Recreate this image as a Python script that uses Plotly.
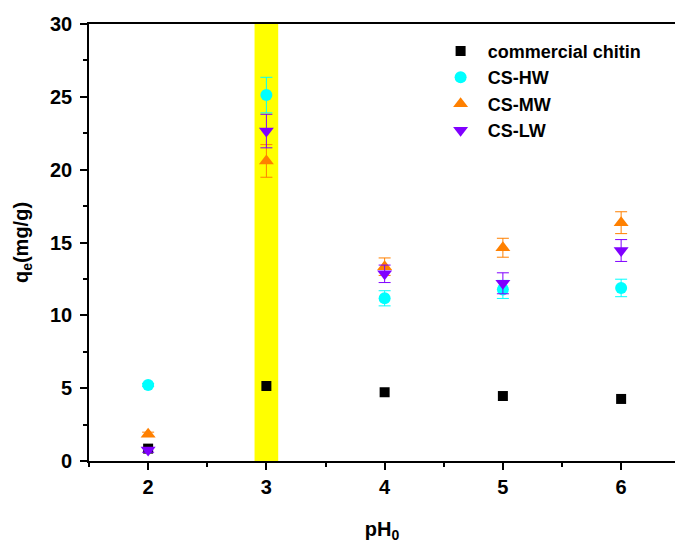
import plotly.graph_objects as go

ph = [2, 3, 4, 5, 6]
chitin = [0.85, 5.15, 4.72, 4.46, 4.26]
chitin_err = [0.1, 0.15, 0.15, 0.12, 0.12]
hw = [5.22, 25.12, 11.17, 11.78, 11.88]
hw_err = [0.1, 1.22, 0.52, 0.62, 0.6]
mw = [1.83, 20.6, 13.34, 14.64, 16.36]
mw_err = [0.15, 1.12, 0.6, 0.65, 0.75]
lw = [0.75, 22.65, 12.85, 12.2, 14.45]
lw_err = [0.15, 1.15, 0.6, 0.72, 0.75]
yticks = [0, 5, 10, 15, 20, 25, 30]

names = ["commercial chitin", "CS-HW", "CS-MW", "CS-LW"]
colors = ["#000000", "#00FFFF", "#FF8000", "#8000FF"]
symbols = ["square", "circle", "triangle-up", "triangle-down"]
sizes = [10, 12, 13, 13]
series = [(chitin, chitin_err), (hw, hw_err), (mw, mw_err), (lw, lw_err)]

FONT = "Liberation Sans, Arial, sans-serif"

fig = go.Figure()
for (vals, errs), name, c, s, sz in zip(series, names, colors, symbols, sizes):
    fig.add_trace(go.Scatter(
        x=ph, y=vals, mode="markers", name="<b>\u2009\u2009%s</b>" % name,
        marker=dict(color=c, symbol=s, size=sz, line=dict(width=0)),
        error_y=dict(type="data", array=errs, color=c, thickness=1, width=6,
                     visible=(name != "commercial chitin")),
    ))

fig.add_shape(type="rect", xref="x", yref="paper", x0=2.9, x1=3.1, y0=0, y1=1,
              fillcolor="#FFFF00", line=dict(width=0), layer="below")

fig.update_layout(
    width=675, height=543,
    margin=dict(l=89, r=0, t=24, b=82),
    plot_bgcolor="white", paper_bgcolor="white",
    font=dict(family=FONT, size=20, color="black"),
    showlegend=True,
    legend=dict(x=0.6, y=0.98, xanchor="left", yanchor="top",
                bgcolor="rgba(0,0,0,0)", font=dict(size=18, family=FONT),
                itemwidth=30, tracegroupgap=0),
    xaxis=dict(range=[1.5, 1.5 + 586 / 118.25], tickvals=ph,
               ticktext=["<b>%d</b>" % v for v in ph],
               showgrid=False, zeroline=False, showline=True, linecolor="black",
               linewidth=1.5, mirror=True, ticks="outside", ticklen=7, tickwidth=1.5,
               tickcolor="black",
               minor=dict(dtick=0.5, tick0=1.5, ticks="outside", ticklen=4, tickcolor="black", tickwidth=1.5),
               title=dict(text="<b>pH<sub>0</sub></b>", font=dict(size=20), standoff=26),
               tickfont=dict(size=20)),
    yaxis=dict(range=[0, 30], tickvals=yticks,
               ticktext=["<b>%d</b>\u2009" % v for v in yticks],
               showgrid=False, zeroline=False, showline=True, linecolor="black",
               linewidth=1.5, ticks="outside", ticklen=7, tickwidth=1.5, tickcolor="black",
               minor=dict(dtick=2.5, ticks="outside", ticklen=4, tickcolor="black", tickwidth=1.5),
               title=dict(text="<b>q<sub>e</sub>(mg/g)</b>", font=dict(size=20), standoff=16),
               tickfont=dict(size=20)),
)

fig.write_html("out.html")
